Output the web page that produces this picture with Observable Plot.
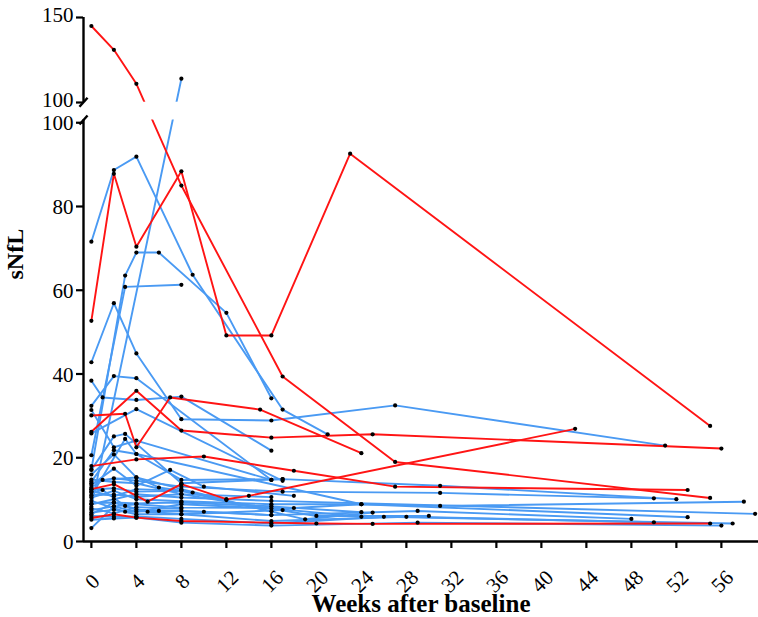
<!DOCTYPE html>
<html>
<head>
<meta charset="utf-8">
<script src="https://cdn.jsdelivr.net/npm/d3@7"></script>
<script src="https://cdn.jsdelivr.net/npm/@observablehq/plot@0.6"></script>
<style>
  html, body { margin: 0; padding: 0; background: white; }
</style>
</head>
<body>
<div id="chart"></div>
<script>
// ---- data: each subject is a list of [week, sNfL] pairs ----
const redSubjects = [
  [[0,145],[2,131],[4,111],[8,85],[17,39.4],[27,19.0],[55,10.4]],
  [[0,52.7],[2,87.8],[4,70.4],[8,88.4],[12,49.2],[16,49.2],[23,92.6],[55,27.6]],
  [[0,26.2],[4,36.0],[8,26.5],[16,24.8],[25,25.6],[56,22.2]],
  [[0,30.1],[3,30.5],[4,22.5],[7,34.4],[15,31.5],[24,21.1]],
  [[0,18.0],[4,19.6],[10,20.3],[18,16.9],[27,13.1],[53,12.3]],
  [[0,12.5],[2,13.7],[5,9.5],[8,13.7],[12,10.1],[14,10.9],[43,26.9]],
  [[0,5.6],[2,6.5],[4,5.7],[8,4.9],[20,4.3],[25,4.2],[55,4.3]]
];
const blueSubjects = [
  [[0,71.6],[2,88.7],[4,91.9],[9,63.7],[17,31.5],[21,25.6]],
  [[0,8.3],[8,114]],
  [[0,17.2],[3,63.5],[4,69],[6,69],[12,54.6],[16,34.2]],
  [[0,20.6],[3,60.8],[8,61.3]],
  [[0,42.8],[2,56.9],[4,44.9],[8,29.2],[16,28.9],[27,32.5],[51,22.9]],
  [[0,38.4],[1,34.4],[4,33.8],[8,34.6],[16,21.7]],
  [[0,32.4],[2,39.5],[4,39.0],[16,14.7]],
  [[0,25.8],[4,31.6],[17,14.5]],
  [[0,31.4],[2,22.5],[4,24.1],[16,14.7]],
  [[0,13.9],[2,15.1],[4,14.5],[8,13.1],[17,11.9],[31,11.6],[50,10.3]],
  [[0,14.3],[2,21.8],[4,20.9],[8,14.7],[17,14.9],[31,13.3],[52,10.1]],
  [[0,10.5],[2,12.1],[4,10.1],[8,9.6],[16,8.9],[24,8.9],[31,8.5],[58,9.5]],
  [[0,8.9],[2,10.1],[4,11.3],[8,10.5],[16,9.7],[59,6.6]],
  [[0,7.5],[2,8.4],[4,8.9],[8,8.1],[18,8.0],[24,8.9],[53,5.8]],
  [[0,9.1],[2,9.3],[4,7.6],[8,7.3],[16,6.3],[29,7.3],[48,5.4]],
  [[0,6.9],[2,7.6],[4,6.5],[8,6.5],[16,4.9],[28,5.9],[50,4.6]],
  [[0,5.2],[2,5.5],[4,5.7],[8,4.5],[16,3.8],[29,4.5],[56,3.8]],
  [[0,6.1],[2,5.9],[4,6.0],[8,5.4],[16,4.3],[26,5.9],[57,4.3]],
  [[0,11.1],[2,11.2],[4,10.7],[8,11.3],[20,6.1],[30,6.1]],
  [[0,12.4],[2,12.7],[4,11.9],[8,12.1],[19,5.3],[25,6.9]],
  [[0,3.2],[2,8.4],[4,7.1],[8,8.9],[16,7.9],[24,5.9]],
  [[0,12.9],[1,14.7],[4,15.3],[6,12.9],[9,11.7],[16,7.2]],
  [[0,11.7],[1,12.3],[3,8.5],[5,7.1],[8,6.5],[17,7.5]],
  [[0,9.7],[3,7.1],[6,7.3],[10,7.1],[16,6.3]],
  [[0,13.5],[2,17.4],[4,13.3],[7,17.1],[10,13.1],[18,10.9]],
  [[0,17.1],[2,25.1],[3,25.7],[8,13.9],[17,14.9]],
  [[0,10.9],[3,24.5],[4,20.9],[24,8.9]],
  [[0,12.0],[2,10.8],[4,12.5],[8,12.1]],
  [[0,7.9],[2,6.7],[4,8.2],[8,7.8]],
  [[0,6.5],[2,9.3],[4,9.1],[8,9.3],[16,8.4],[24,7.0]],
  [[0,14.8],[2,14.2],[4,13.9],[8,11.3],[16,10.6]],
  [[0,16.0],[2,20.8],[4,15.3],[8,12.5],[12,9.9]]
];
const xTicks = [0,4,8,12,16,20,24,28,32,36,40,44,48,52,56];
const yTicksLower = [0,20,40,60,80,100];
const yTicksUpper = [100,150];

// ---- broken-axis transform (lower 0–100, compressed upper 100–150) ----
const upperStart = 104.83, upperScale = 0.406;
const tUp = v => upperStart + (v - 100) * upperScale;
const tY = v => v <= 100 ? v : tUp(v);

const toRows = (subs, group) => subs.flatMap((s, i) =>
  s.map(([w, v]) => ({id: group + i, group, week: w, value: v, d: tY(v)})));
const blueRows = toRows(blueSubjects, "blue");
const redRows = toRows(redSubjects, "red");
const allRows = blueRows.concat(redRows);

const xMin = -0.7, xMax = 59.3;
const lowerTop = 100.65, upperBottom = 104.9;
const axisSegs = [{y1: 0, y2: lowerTop}, {y1: upperBottom, y2: tUp(150)}];
const breakMarks = [lowerTop, upperBottom];
const lowerTickRows = yTicksLower.map(v => ({label: String(v), d: v}));
const upperTickRows = yTicksUpper.map(v => ({label: String(v), d: tUp(v)}));
const allTickPos = lowerTickRows.concat(upperTickRows).map(r => r.d);

const chart = Plot.plot({
  width: 758, height: 617,
  marginLeft: 83, marginRight: 0, marginTop: 17, marginBottom: 76,
  x: {domain: [xMin, xMax]},
  y: {domain: [0, tUp(150)]},
  style: {fontFamily: "Liberation Serif", background: "white", color: "black"},
  marks: [
    Plot.line(blueRows, {x: "week", y: "d", z: "id", stroke: "#4a9af3", strokeWidth: 1.9}),
    Plot.line(redRows, {x: "week", y: "d", z: "id", stroke: "#ff1414", strokeWidth: 1.9}),
    Plot.dot(allRows, {x: "week", y: "d", r: 2.1, fill: "black", stroke: "none"}),
    Plot.rect([{y1: lowerTop, y2: upperBottom}], {x1: () => xMin, x2: () => xMax, y1: "y1", y2: "y2", fill: "white"}),
    Plot.ruleX(axisSegs, {x: () => xMin, y1: "y1", y2: "y2", strokeWidth: 2.4}),
    Plot.ruleY([0], {strokeWidth: 2.4}),
    Plot.link(breakMarks, {x1: () => xMin - 0.36, x2: () => xMin + 0.36, y1: d => d - 1.08, y2: d => d + 1.08, strokeWidth: 2.4}),
    Plot.axisY(allTickPos, {tickSize: 7, strokeWidth: 2.2, tickFormat: () => "", label: null}),
    Plot.text(lowerTickRows, {x: () => xMin, y: "d", text: "label", dx: -10, dy: 1, textAnchor: "end", fontSize: 21}),
    Plot.text(upperTickRows, {x: () => xMin, y: "d", text: "label", dx: -10, dy: -2, textAnchor: "end", fontSize: 21}),
    Plot.axisX(xTicks, {tickSize: 7, strokeWidth: 2.2, tickFormat: () => "", label: null}),
    Plot.text(xTicks, {x: d => d, y: () => 0, dx: 1, dy: 40, rotate: -45, text: d => String(d), fontSize: 21}),
    Plot.text(["sNfL"], {frameAnchor: "left", dx: -68, rotate: -90, fontWeight: "bold", fontSize: 24}),
    Plot.text(["Weeks after baseline"], {frameAnchor: "bottom", dy: 70, fontWeight: "bold", fontSize: 25})
  ]
});
document.getElementById("chart").appendChild(chart);
</script>
</body>
</html>
